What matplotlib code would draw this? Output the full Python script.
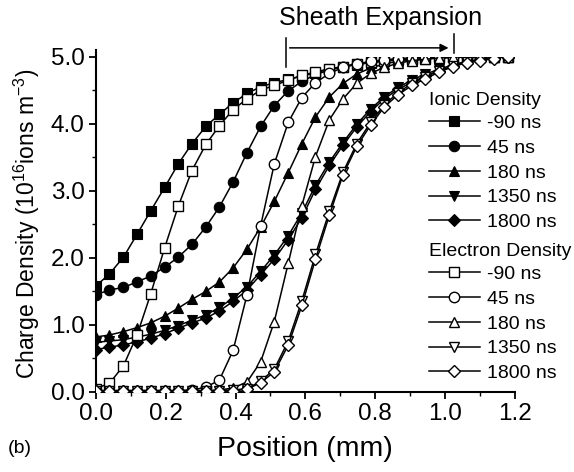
import matplotlib
matplotlib.use("Agg")
import matplotlib.pyplot as plt
from matplotlib.ticker import MultipleLocator, FormatStrFormatter

plt.rcParams['font.family'] = ['Liberation Sans', 'DejaVu Sans']
plt.rcParams['mathtext.fontset'] = 'custom'
plt.rcParams['mathtext.rm'] = 'Liberation Sans'
plt.rcParams['mathtext.it'] = 'Liberation Sans'

# Sample positions across the gap (mm)
position = [0.000, 0.039, 0.079, 0.118, 0.157, 0.197, 0.236, 0.275, 0.315, 0.354,
            0.393, 0.433, 0.472, 0.511, 0.551, 0.590, 0.629, 0.669, 0.708, 0.747,
            0.787, 0.826, 0.865, 0.905, 0.944, 0.983, 1.023, 1.062, 1.101, 1.141,
            1.180]

times = ["-90 ns", "45 ns", "180 ns", "1350 ns", "1800 ns"]

# Ion density (1e16 m^-3)
ion_m90 = [1.58, 1.76, 2.01, 2.35, 2.70, 3.05, 3.40, 3.70, 3.96, 4.14,
           4.31, 4.45, 4.55, 4.61, 4.66, 4.71, 4.76, 4.81, 4.85, 4.88,
           4.91, 4.93, 4.95, 4.96, 4.97, 4.98, 4.99, 5.00, 5.00, 5.00, 5.00]
ion_45 = [1.45, 1.52, 1.56, 1.64, 1.73, 1.86, 2.01, 2.20, 2.46, 2.76,
          3.13, 3.57, 3.96, 4.27, 4.49, 4.63, 4.73, 4.80, 4.85, 4.89,
          4.92, 4.94, 4.96, 4.97, 4.98, 4.99, 5.00, 5.00, 5.00, 5.00, 5.00]
ion_180 = [0.82, 0.85, 0.90, 0.96, 1.03, 1.13, 1.25, 1.38, 1.50, 1.64,
           1.85, 2.13, 2.46, 2.84, 3.27, 3.70, 4.10, 4.40, 4.60, 4.74,
           4.83, 4.89, 4.93, 4.95, 4.97, 4.98, 4.99, 5.00, 5.00, 5.00, 5.00]
ion_1350 = [0.74, 0.76, 0.78, 0.82, 0.86, 0.92, 0.99, 1.07, 1.15, 1.26,
            1.40, 1.57, 1.80, 2.04, 2.33, 2.67, 3.08, 3.43, 3.72, 3.99,
            4.22, 4.40, 4.54, 4.65, 4.74, 4.81, 4.88, 4.93, 4.96, 4.98, 5.00]
ion_1800 = [0.63, 0.67, 0.70, 0.75, 0.80, 0.87, 0.95, 1.03, 1.10, 1.21,
            1.35, 1.52, 1.75, 1.98, 2.27, 2.60, 3.02, 3.38, 3.68, 3.95,
            4.18, 4.37, 4.51, 4.62, 4.71, 4.79, 4.86, 4.91, 4.95, 4.98, 5.00]

# Electron density (1e16 m^-3)
ele_m90 = [0.05, 0.13, 0.39, 0.85, 1.46, 2.15, 2.77, 3.30, 3.69, 3.97,
           4.21, 4.37, 4.50, 4.57, 4.65, 4.72, 4.77, 4.82, 4.85, 4.89,
           4.92, 4.94, 4.96, 4.97, 4.98, 4.99, 5.00, 5.00, 5.00, 5.00, 5.00]
ele_45 = [0.02, 0.02, 0.02, 0.02, 0.02, 0.02, 0.02, 0.03, 0.07, 0.18,
          0.62, 1.45, 2.48, 3.40, 4.02, 4.39, 4.61, 4.75, 4.84, 4.89,
          4.93, 4.95, 4.97, 4.98, 4.99, 5.00, 5.00, 5.00, 5.00, 5.00, 5.00]
ele_180 = [0.02, 0.02, 0.02, 0.02, 0.02, 0.02, 0.02, 0.02, 0.02, 0.03,
           0.06, 0.15, 0.45, 1.05, 1.92, 2.78, 3.51, 4.06, 4.37, 4.60,
           4.75, 4.84, 4.90, 4.94, 4.96, 4.98, 4.99, 5.00, 5.00, 5.00, 5.00]
ele_1350 = [0.02, 0.02, 0.02, 0.02, 0.02, 0.02, 0.02, 0.02, 0.02, 0.02,
            0.03, 0.05, 0.16, 0.34, 0.76, 1.36, 2.05, 2.70, 3.28, 3.70,
            4.02, 4.28, 4.46, 4.60, 4.70, 4.79, 4.86, 4.92, 4.95, 4.98, 5.00]
ele_1800 = [0.02, 0.02, 0.02, 0.02, 0.02, 0.02, 0.02, 0.02, 0.02, 0.02,
            0.02, 0.04, 0.14, 0.30, 0.70, 1.29, 1.98, 2.64, 3.24, 3.66,
            3.98, 4.25, 4.43, 4.57, 4.67, 4.77, 4.85, 4.91, 4.94, 4.97, 5.00]

ion_series = [ion_m90, ion_45, ion_180, ion_1350, ion_1800]
ele_series = [ele_m90, ele_45, ele_180, ele_1350, ele_1800]
markers = ['s', 'o', '^', 'v', 'D']
msizes = [7, 7.5, 7.5, 7.5, 6.5]

fig = plt.figure(figsize=(5.74, 4.72), dpi=100)
ax = fig.add_axes([0.167, 0.1695, 0.730, 0.7106])

ion_handles = []
for vals, mk, ms, lab in zip(ion_series, markers, msizes, times):
    h, = ax.plot(position, vals, color='black', lw=1.1, marker=mk, ms=ms,
                 mfc='black', mec='black', mew=0.8, label=lab, zorder=3)
    ion_handles.append(h)

ele_handles = []
for vals, mk, ms, lab in zip(ele_series, markers, msizes, times):
    h, = ax.plot(position, vals, color='black', lw=1.1, marker=mk, ms=ms,
                 mfc='white', mec='black', mew=1.0, label=lab, zorder=4)
    ele_handles.append(h)

ax.set_xlim(0.0, 1.2)
ax.set_ylim(0.0, 5.0)
ax.spines['top'].set_visible(False)
ax.spines['right'].set_visible(False)
ax.spines['left'].set_linewidth(1.5)
ax.spines['bottom'].set_linewidth(1.5)
ax.spines['left'].set_bounds(0.0, 5.1)

ax.xaxis.set_major_locator(MultipleLocator(0.2))
ax.xaxis.set_minor_locator(MultipleLocator(0.1))
ax.yaxis.set_major_locator(MultipleLocator(1.0))
ax.yaxis.set_minor_locator(MultipleLocator(0.5))
ax.xaxis.set_major_formatter(FormatStrFormatter('%.1f'))
ax.yaxis.set_major_formatter(FormatStrFormatter('%.1f'))
ax.tick_params(which='major', direction='out', length=5, width=1.3,
               labelsize=17.5, pad=3)
ax.tick_params(which='minor', direction='out', length=3, width=1.0)

ax.set_xlabel('Position (mm)', fontsize=20.5, labelpad=8)
ax.set_ylabel('Charge Density (10$^{16}$ions m$^{-3}$)', fontsize=16.5, labelpad=6)

leg_kw = dict(frameon=False, fontsize=14, handlelength=2.6, handletextpad=0.4,
              labelspacing=0.37, borderaxespad=0.0, borderpad=0.0,
              alignment='left', title_fontsize=14)
leg1 = ax.legend(handles=ion_handles, title='Ionic Density',
                 loc='upper left', bbox_to_anchor=(0.795, 0.895), **leg_kw)
ax.add_artist(leg1)
leg2 = ax.legend(handles=ele_handles, title='Electron Density',
                 loc='upper left', bbox_to_anchor=(0.795, 0.445), **leg_kw)
for lg in (leg1, leg2):
    lg._legend_box.sep = 4

# Sheath expansion bracket and arrow
ax.plot([0.544, 0.544], [4.84, 5.28], color='black', lw=1.1, clip_on=False)
ax.plot([1.026, 1.026], [5.06, 5.33], color='black', lw=1.1, clip_on=False)
ax.annotate('', xy=(1.01, 5.13), xytext=(0.555, 5.13),
            arrowprops=dict(arrowstyle='-|>', color='black', lw=1.1,
                            mutation_scale=12, shrinkA=0, shrinkB=0),
            annotation_clip=False)
ax.text(0.815, 5.58, 'Sheath Expansion', fontsize=18, ha='center', va='center')

fig.text(0.014, 0.05, '(b)', fontsize=14, ha='left', va='center')

fig.savefig('out.png', dpi=100)
